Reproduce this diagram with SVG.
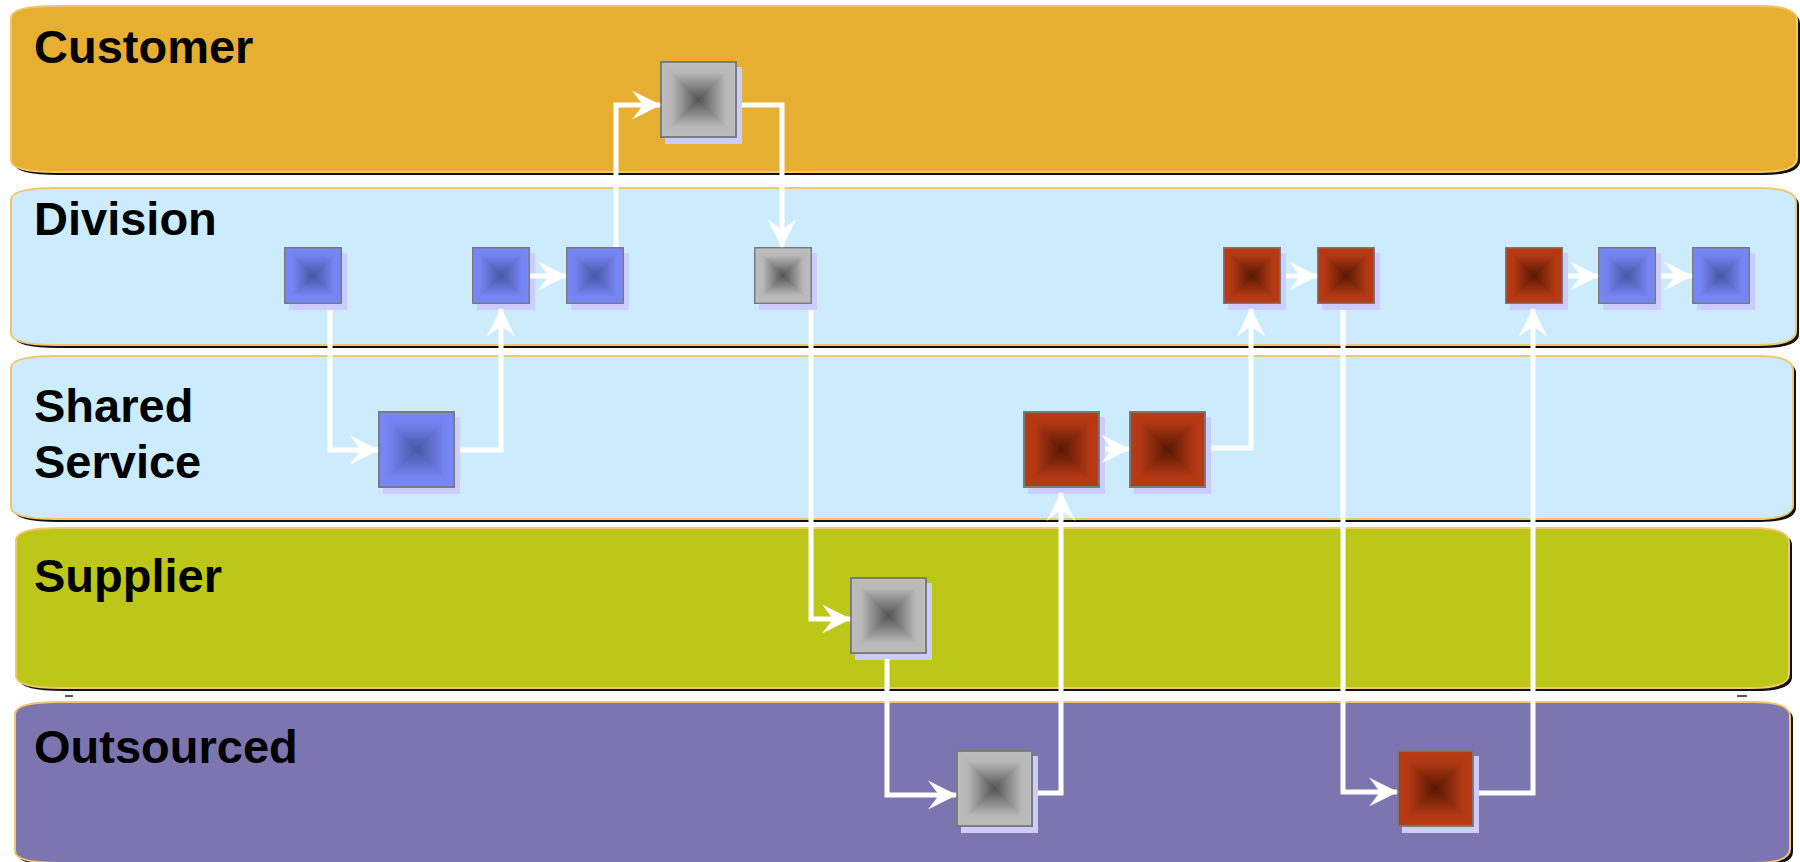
<svg xmlns="http://www.w3.org/2000/svg" xmlns:xlink="http://www.w3.org/1999/xlink" width="1800" height="862" viewBox="0 0 1800 862">
<style>
.lane-shadow{fill:#111;}
.lane{stroke:#F0C76A;stroke-width:2;}
.label{font-family:"Liberation Sans",Arial,sans-serif;font-weight:bold;font-size:47px;fill:#000;}
.shd{fill:#CCCCFF;}
.conn{fill:none;stroke:#fff;stroke-width:5;stroke-linejoin:miter;}
.conn-a{marker-end:url(#ah);}
.tri{shape-rendering:crispEdges;}
</style>
<defs>
<marker id="ah" markerUnits="userSpaceOnUse" markerWidth="32" markerHeight="32" viewBox="-30 -16 32 32" refX="0" refY="0" orient="auto">
<path d="M1,0 L-28,-14.5 L-17,0 L-28,14.5 Z" fill="#fff"/>
</marker>
<linearGradient id="gT" x1="0" y1="0" x2="0" y2="1"><stop offset="0" stop-color="#BEBEBE"/><stop offset="0.3" stop-color="#B8B8B8"/><stop offset="1" stop-color="#545454"/></linearGradient>
<linearGradient id="gB" href="#gT" x1="0" y1="1" x2="0" y2="0"/>
<linearGradient id="gL" href="#gT" x1="0" y1="0" x2="1" y2="0"/>
<linearGradient id="gR" href="#gT" x1="1" y1="0" x2="0" y2="0"/>
<linearGradient id="bT" x1="0" y1="0" x2="0" y2="1"><stop offset="0" stop-color="#7888F8"/><stop offset="0.3" stop-color="#7383F0"/><stop offset="1" stop-color="#4757A4"/></linearGradient>
<linearGradient id="bB" href="#bT" x1="0" y1="1" x2="0" y2="0"/>
<linearGradient id="bL" href="#bT" x1="0" y1="0" x2="1" y2="0"/>
<linearGradient id="bR" href="#bT" x1="1" y1="0" x2="0" y2="0"/>
<linearGradient id="rT" x1="0" y1="0" x2="0" y2="1"><stop offset="0" stop-color="#B93B14"/><stop offset="0.3" stop-color="#B23813"/><stop offset="1" stop-color="#581803"/></linearGradient>
<linearGradient id="rB" href="#rT" x1="0" y1="1" x2="0" y2="0"/>
<linearGradient id="rL" href="#rT" x1="0" y1="0" x2="1" y2="0"/>
<linearGradient id="rR" href="#rT" x1="1" y1="0" x2="0" y2="0"/>
<symbol id="sq-gray" viewBox="0 0 100 100" preserveAspectRatio="none">
<polygon class="tri" points="0,0 100,0 50,50" fill="url(#gT)"/><polygon class="tri" points="0,100 100,100 50,50" fill="url(#gB)"/>
<polygon class="tri" points="0,0 0,100 50,50" fill="url(#gL)"/><polygon class="tri" points="100,0 100,100 50,50" fill="url(#gR)"/>
<rect x="1.2" y="1.2" width="97.6" height="97.6" fill="none" stroke="#7A7A7A" stroke-width="2.6"/>
</symbol>
<symbol id="sq-blue" viewBox="0 0 100 100" preserveAspectRatio="none">
<polygon class="tri" points="0,0 100,0 50,50" fill="url(#bT)"/><polygon class="tri" points="0,100 100,100 50,50" fill="url(#bB)"/>
<polygon class="tri" points="0,0 0,100 50,50" fill="url(#bL)"/><polygon class="tri" points="100,0 100,100 50,50" fill="url(#bR)"/>
<rect x="1.2" y="1.2" width="97.6" height="97.6" fill="none" stroke="#7A7A7A" stroke-width="2.6"/>
</symbol>
<symbol id="sq-red" viewBox="0 0 100 100" preserveAspectRatio="none">
<polygon class="tri" points="0,0 100,0 50,50" fill="url(#rT)"/><polygon class="tri" points="0,100 100,100 50,50" fill="url(#rB)"/>
<polygon class="tri" points="0,0 0,100 50,50" fill="url(#rL)"/><polygon class="tri" points="100,0 100,100 50,50" fill="url(#rR)"/>
<rect x="1.2" y="1.2" width="97.6" height="97.6" fill="none" stroke="#7A7A7A" stroke-width="2.6"/>
</symbol>
</defs>
<rect width="1800" height="862" fill="#fff"/>

<g id="lane-customer">
<path class="lane-shadow" d="M59,9 H1763 Q1800,9 1800,23 V161 Q1800,175 1763,175 H59 Q14,175 14,163 V21 Q14,9 59,9 Z"/>
<path class="lane" fill="#E6AF32" d="M56,6 H1760 Q1797,6 1797,20 V158 Q1797,172 1760,172 H56 Q11,172 11,160 V18 Q11,6 56,6 Z"/>
<text class="label" x="34" y="63">Customer</text>
</g>
<g id="lane-division">
<path class="lane-shadow" d="M59,191 H1762 Q1799,191 1799,205 V334 Q1799,348 1762,348 H59 Q14,348 14,336 V203 Q14,191 59,191 Z"/>
<path class="lane" fill="#CCEBFD" d="M56,188 H1759 Q1796,188 1796,202 V331 Q1796,345 1759,345 H56 Q11,345 11,333 V200 Q11,188 56,188 Z"/>
<text class="label" x="34" y="235">Division</text>
</g>
<g id="lane-shared">
<path class="lane-shadow" d="M59,359 H1759 Q1796,359 1796,373 V508 Q1796,522 1759,522 H59 Q14,522 14,510 V371 Q14,359 59,359 Z"/>
<path class="lane" fill="#CCEBFD" d="M56,356 H1756 Q1793,356 1793,370 V505 Q1793,519 1756,519 H56 Q11,519 11,507 V368 Q11,356 56,356 Z"/>
<text class="label" x="34" y="422">Shared</text>
<text class="label" x="34" y="478">Service</text>
</g>
<g id="lane-supplier">
<path class="lane-shadow" d="M64,531 H1755 Q1792,531 1792,545 V677 Q1792,691 1755,691 H64 Q19,691 19,679 V543 Q19,531 64,531 Z"/>
<path class="lane" fill="#BCC718" d="M61,528 H1752 Q1789,528 1789,542 V674 Q1789,688 1752,688 H61 Q16,688 16,676 V540 Q16,528 61,528 Z"/>
<text class="label" x="34" y="592">Supplier</text>
</g>
<g id="lane-outsourced">
<path class="lane-shadow" d="M63,705 H1756 Q1793,705 1793,719 V852 Q1793,866 1756,866 H63 Q18,866 18,854 V717 Q18,705 63,705 Z"/>
<path class="lane" fill="#7C75AF" d="M60,702 H1753 Q1790,702 1790,716 V849 Q1790,863 1753,863 H60 Q15,863 15,851 V714 Q15,702 60,702 Z"/>
<text class="label" x="34" y="763">Outsourced</text>
</g>
<g id="marks">
<line x1="65" y1="696" x2="73" y2="696" stroke="#222" stroke-width="1.5"/>
<line x1="1737" y1="696" x2="1747" y2="696" stroke="#222" stroke-width="1.5"/>
</g>

<g id="node-c1"><rect class="shd" x="665" y="67" width="77" height="77"/><use href="#sq-gray" x="660" y="61" width="77" height="77"/></g>
<g id="node-d1"><rect class="shd" x="289" y="253" width="58" height="57"/><use href="#sq-blue" x="284" y="247" width="58" height="57"/></g>
<g id="node-d2"><rect class="shd" x="477" y="253" width="58" height="57"/><use href="#sq-blue" x="472" y="247" width="58" height="57"/></g>
<g id="node-d3"><rect class="shd" x="571" y="253" width="58" height="57"/><use href="#sq-blue" x="566" y="247" width="58" height="57"/></g>
<g id="node-d4"><rect class="shd" x="759" y="253" width="58" height="57"/><use href="#sq-gray" x="754" y="247" width="58" height="57"/></g>
<g id="node-d5"><rect class="shd" x="1228" y="253" width="58" height="57"/><use href="#sq-red" x="1223" y="247" width="58" height="57"/></g>
<g id="node-d6"><rect class="shd" x="1322" y="253" width="58" height="57"/><use href="#sq-red" x="1317" y="247" width="58" height="57"/></g>
<g id="node-d7"><rect class="shd" x="1510" y="253" width="58" height="57"/><use href="#sq-red" x="1505" y="247" width="58" height="57"/></g>
<g id="node-d8"><rect class="shd" x="1603" y="253" width="58" height="57"/><use href="#sq-blue" x="1598" y="247" width="58" height="57"/></g>
<g id="node-d9"><rect class="shd" x="1697" y="253" width="58" height="57"/><use href="#sq-blue" x="1692" y="247" width="58" height="57"/></g>
<g id="node-s1"><rect class="shd" x="383" y="417" width="77" height="77"/><use href="#sq-blue" x="378" y="411" width="77" height="77"/></g>
<g id="node-s2"><rect class="shd" x="1028" y="417" width="77" height="77"/><use href="#sq-red" x="1023" y="411" width="77" height="77"/></g>
<g id="node-s3"><rect class="shd" x="1134" y="417" width="77" height="77"/><use href="#sq-red" x="1129" y="411" width="77" height="77"/></g>
<g id="node-p1"><rect class="shd" x="855" y="583" width="77" height="77"/><use href="#sq-gray" x="850" y="577" width="77" height="77"/></g>
<g id="node-o1"><rect class="shd" x="961" y="756" width="77" height="77"/><use href="#sq-gray" x="956" y="750" width="77" height="77"/></g>
<g id="node-o2"><rect class="shd" x="1402" y="756" width="77" height="77"/><use href="#sq-red" x="1397" y="750" width="77" height="77"/></g>

<g id="connectors">
<path class="conn conn-a" d="M330,310 V450 H378"/>
<path class="conn conn-a" d="M460,450 H501 V309"/>
<path class="conn conn-a" d="M530,276 H566"/>
<path class="conn conn-a" d="M616,247 V105 H660"/>
<path class="conn conn-a" d="M742,105 H782 V247"/>
<path class="conn conn-a" d="M811,310 V619 H850"/>
<path class="conn conn-a" d="M887,659 V795 H956"/>
<path class="conn conn-a" d="M1038,793 H1061 V493"/>
<path class="conn conn-a" d="M1105,449 H1129"/>
<path class="conn conn-a" d="M1211,448 H1251 V309"/>
<path class="conn conn-a" d="M1286,276 H1317"/>
<path class="conn conn-a" d="M1343,310 V792 H1397"/>
<path class="conn conn-a" d="M1479,793 H1533 V309"/>
<path class="conn conn-a" d="M1568,276 H1598"/>
<path class="conn conn-a" d="M1661,276 H1692"/>
</g>
</svg>
